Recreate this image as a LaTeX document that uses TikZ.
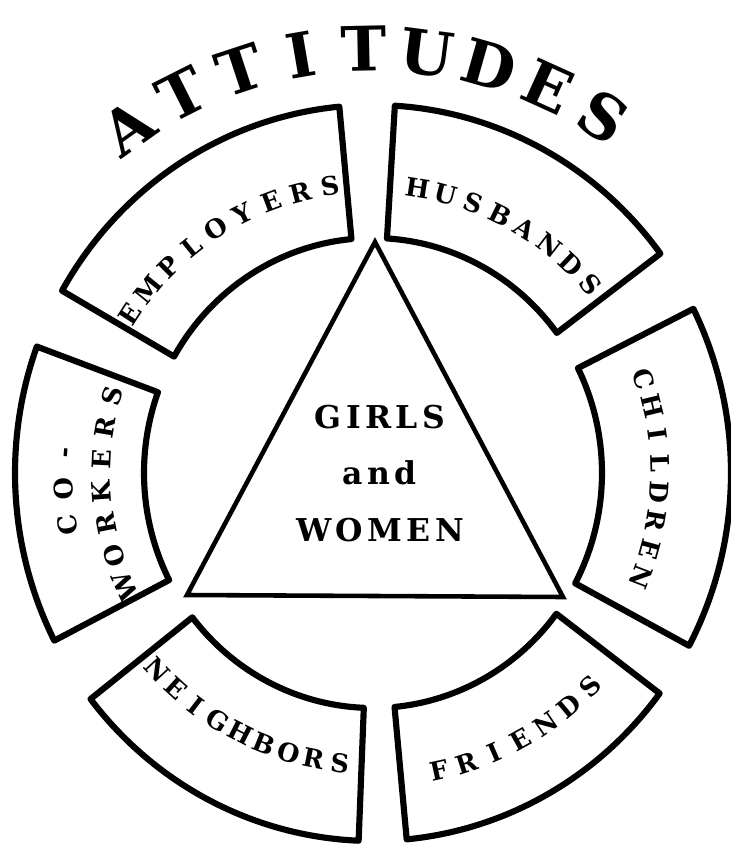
\documentclass[tikz,border=0pt]{standalone}
\usepackage{fontspec}
\setmainfont{DejaVu Serif}
\newfontfamily\centrefont{DejaVu Serif}[LetterSpace=14]
\usetikzlibrary{positioning}

% letters set one by one round an arc: style, name, radius, first angle, step, turn, letters
\newcommand{\arcword}[7]{%
  \foreach \ch [count=\i from 0] in {#7}
    \node[#1, rotate={#4+\i*(#5)#6}, name=#2-\i] at ({#4+\i*(#5)}:#3) {\ch};%
}

\begin{document}
\begin{tikzpicture}[x=0.02cm,y=0.02cm,
    sector/.style={line width=3.5pt,line join=round},
    letter/.style={inner sep=0pt,text height=10.6pt,text depth=0pt,
      font=\bfseries\fontsize{14.6}{17}\selectfont},
    bigletter/.style={inner sep=0pt,text height=25.5pt,text depth=0pt,
      font=\bfseries\fontsize{35}{40}\selectfont}]
  \useasboundingbox (-373,-377) rectangle (358,473);
  % ring of sectors
  \draw[sector] (95.4:229 and 235) arc[start angle=95.4,end angle=150.3,x radius=229,y radius=235]
    -- (150.3:358 and 368) arc[start angle=150.3,end angle=95.4,x radius=358,y radius=368] -- cycle;
  \draw[sector] (36.6:229 and 235) arc[start angle=36.6,end angle=86.5,x radius=229,y radius=235]
    -- (86.5:358 and 368) arc[start angle=86.5,end angle=36.6,x radius=358,y radius=368] -- cycle;
  \draw[sector] (-28:229 and 235) arc[start angle=-28,end angle=26.5,x radius=229,y radius=235]
    -- (26.5:358 and 368) arc[start angle=26.5,end angle=-28,x radius=358,y radius=368] -- cycle;
  \draw[sector] (-84.6:229 and 235) arc[start angle=-84.6,end angle=-36.8,x radius=229,y radius=235]
    -- (-36.8:358 and 368) arc[start angle=-36.8,end angle=-84.6,x radius=358,y radius=368] -- cycle;
  \draw[sector] (217.9:229 and 235) arc[start angle=217.9,end angle=267.7,x radius=229,y radius=235]
    -- (267.7:358 and 368) arc[start angle=267.7,end angle=217.9,x radius=358,y radius=368] -- cycle;
  \draw[sector] (159.9:229 and 235) arc[start angle=159.9,end angle=207.1,x radius=229,y radius=235]
    -- (207.1:358 and 368) arc[start angle=207.1,end angle=159.9,x radius=358,y radius=368] -- cycle;
  % triangle
  \coordinate (apex) at (2,231);
  \coordinate (left) at (-186,-122);
  \coordinate (right) at (190,-124);
  \draw[line width=2.6pt,line join=miter] (apex) -- (left) -- (right) -- cycle;
  \node[align=center,inner sep=0pt,font=\centrefont\bfseries\fontsize{17.9}{32}\selectfont]
    (centre) at (7,-0.5) {GIRLS\\and\\WOMEN};
  % labels
  \arcword{bigletter}{att}{424}{125.3}{-8.525}{-90}{A,T,T,I,T,U,D,E,S}
  \arcword{letter}{emp}{290}{146.9}{-6.05}{-90}{E,M,P,L,O,Y,E,R,S}
  \arcword{letter}{hus}{288}{81.1}{-5.76}{-90}{H,U,S,B,A,N,D,S}
  \arcword{letter}{chi}{287}{19.2}{-5.76}{-90}{C,H,I,L,D,R,E,N}
  \arcword{letter}{co}{310}{189.6}{-6.7}{-90}{C,O,-}
  \arcword{letter}{wor}{272}{204.5}{-6.83}{-90}{W,O,R,K,E,R,S}
  \arcword{letter}{nei}{292}{222.5}{5.125}{+90}{N,E,I,G,H,B,O,R,S}
  \arcword{letter}{fri}{305}{-77.5}{5.5}{+90}{F,R,I,E,N,D,S}
\end{tikzpicture}
\end{document}
